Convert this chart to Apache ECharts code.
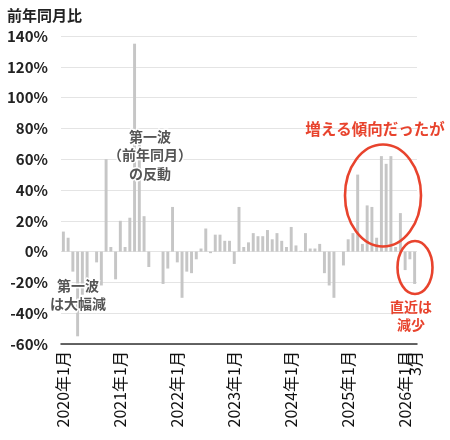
<!DOCTYPE html>
<html>
<head>
<meta charset="utf-8">
<script src="https://cdn.jsdelivr.net/npm/echarts@6/dist/echarts.min.js"></script>
<style>
html,body{margin:0;padding:0;background:#fff;}
#chart{width:450px;height:440px;}
</style>
</head>
<body>
<div id="chart"></div>
<script>
var categories = [
  '2020年1月','2020年2月','2020年3月','2020年4月','2020年5月','2020年6月','2020年7月','2020年8月','2020年9月','2020年10月','2020年11月','2020年12月',
  '2021年1月','2021年2月','2021年3月','2021年4月','2021年5月','2021年6月','2021年7月','2021年8月','2021年9月','2021年10月','2021年11月','2021年12月',
  '2022年1月','2022年2月','2022年3月','2022年4月','2022年5月','2022年6月','2022年7月','2022年8月','2022年9月','2022年10月','2022年11月','2022年12月',
  '2023年1月','2023年2月','2023年3月','2023年4月','2023年5月','2023年6月','2023年7月','2023年8月','2023年9月','2023年10月','2023年11月','2023年12月',
  '2024年1月','2024年2月','2024年3月','2024年4月','2024年5月','2024年6月','2024年7月','2024年8月','2024年9月','2024年10月','2024年11月','2024年12月',
  '2025年1月','2025年2月','2025年3月','2025年4月','2025年5月','2025年6月','2025年7月','2025年8月','2025年9月','2025年10月','2025年11月','2025年12月',
  '2026年1月','2026年2月','2026年3月'
];
var yoy2020 = [13, 9, -13, -55, -28, -25, 0, -7, -22, 60, 3, -18];
var yoy2021 = [20, 3, 22, 135, 70, 23, -10, 0, 0, -21, -11, 29];
var yoy2022 = [-7, -30, -13, -14, -5, 2, 15, -1, 11, 11, 7, 7];
var yoy2023 = [-8, 29, 3, 6, 12, 10, 10, 14, 8, 12, 7, 3];
var yoy2024 = [16, 4, 0.5, 12, 2, 2, 5, -14, -22, -30, 0, -9];
var yoy2025 = [8, 12, 50, 5, 30, 29, 9, 62, 57, 62, 3, 25];
var yoy2026 = [-12, -5, -21];
var yTicks = {min: -60, max: 140, interval: 20};
var titleText = '前年同月比';

var values = [].concat(yoy2020, yoy2021, yoy2022, yoy2023, yoy2024, yoy2025, yoy2026);
var lastIdx = categories.length - 1;
var FONT = "'Noto Sans CJK JP', 'Noto Sans', sans-serif";
var RED = '#e8432d';
var GRAY_TXT = '#555555';

var baseLabel = {
  rotate: 90,
  margin: 7,
  fontFamily: FONT,
  fontSize: 16,
  color: '#111',
  hideOverlap: false,
  showMinLabel: true,
  showMaxLabel: true
};

var chart = echarts.init(document.getElementById('chart'));
chart.setOption({
  animation: false,
  backgroundColor: '#ffffff',
  title: {
    text: titleText, left: 2, top: 3,
    textStyle: {fontFamily: FONT, fontSize: 15, fontWeight: 'bold', color: '#222'}
  },
  grid: {left: 61, right: 33, top: 36, bottom: 96, containLabel: false},
  xAxis: [{
    type: 'category',
    data: categories,
    axisLine: {onZero: false, lineStyle: {color: '#333', width: 1.5}},
    axisTick: {show: false},
    splitLine: {show: false},
    axisLabel: Object.assign({}, baseLabel, {
      interval: function (idx) { return idx % 12 === 0; }
    })
  }, {
    type: 'category',
    data: categories,
    position: 'bottom',
    axisLine: {show: false, onZero: false},
    axisTick: {show: false},
    splitLine: {show: false},
    axisLabel: Object.assign({}, baseLabel, {
      interval: function (idx) { return idx === lastIdx; },
      formatter: function (val) { return val.replace(/^\d+年/, ''); }
    })
  }],
  yAxis: {
    type: 'value',
    min: yTicks.min, max: yTicks.max, interval: yTicks.interval,
    axisLine: {show: false},
    axisTick: {show: false},
    splitLine: {lineStyle: {color: '#e4e4e4', width: 1}},
    axisLabel: {
      formatter: '{value}%', margin: 13,
      fontFamily: FONT, fontSize: 15, fontWeight: 'bold', color: '#222'
    }
  },
  series: [{
    type: 'bar',
    xAxisIndex: 0,
    data: values,
    barWidth: '62%',
    itemStyle: {color: '#c6c6c6'},
    z: 2
  }],
  graphic: [
    {type: 'text', z: 100, x: 78, y: 277, style: {
      text: '第一波\nは大幅減', textAlign: 'center', textVerticalAlign: 'top',
      fill: GRAY_TXT, font: 'bold 14px ' + FONT, lineHeight: 18,
      stroke: '#fff', lineWidth: 3
    }},
    {type: 'text', z: 100, x: 150, y: 127, style: {
      text: '第一波\n（前年同月）\nの反動', textAlign: 'center', textVerticalAlign: 'top',
      fill: GRAY_TXT, font: 'bold 14px ' + FONT, lineHeight: 18.5,
      stroke: '#fff', lineWidth: 3
    }},
    {type: 'text', z: 100, x: 375, y: 121, style: {
      text: '増える傾向だったが', textAlign: 'center', textVerticalAlign: 'top',
      fill: RED, font: 'bold 15.5px ' + FONT
    }},
    {type: 'text', z: 100, x: 411, y: 298, style: {
      text: '直近は\n減少', textAlign: 'center', textVerticalAlign: 'top',
      fill: RED, font: 'bold 14px ' + FONT, lineHeight: 18
    }},
    {type: 'ellipse', z: 100, shape: {cx: 383, cy: 195.5, rx: 38, ry: 51},
      style: {fill: 'none', stroke: RED, lineWidth: 2.6}},
    {type: 'ellipse', z: 100, shape: {cx: 415, cy: 267.5, rx: 17.5, ry: 26.5},
      style: {fill: 'none', stroke: RED, lineWidth: 2.6}}
  ]
});
</script>
</body>
</html>
